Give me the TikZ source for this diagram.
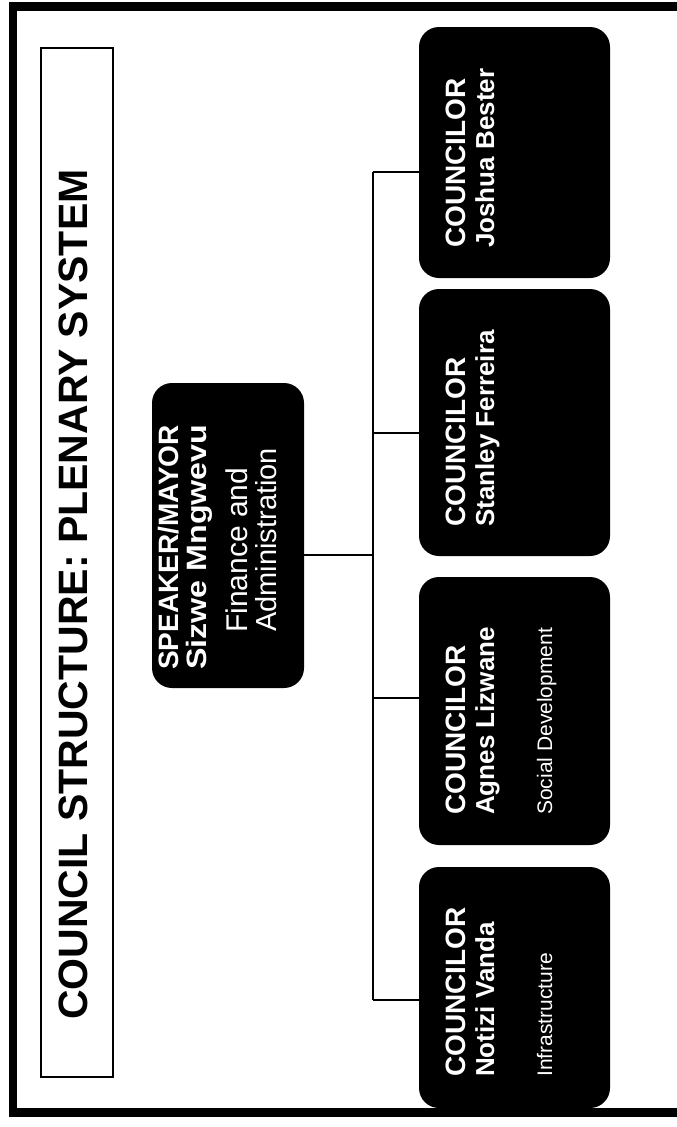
\documentclass[tikz,border=0pt]{standalone}
\usepackage{fontspec}
\setmainfont{Liberation Sans}
\usepackage{graphicx}
\begin{document}
\begin{tikzpicture}[x=1pt,y=-1pt,
  frameline/.style={line width=8.5pt, line join=miter},
  wire/.style={line width=2pt},
  card/.style={fill=black, rounded corners=20pt, inner sep=0pt, minimum width=191pt},
  rot/.style={rotate=90, anchor=base west, inner sep=0pt, text=white},
  hd/.style={rot, font=\fontsize{28}{28}\selectfont\bfseries},
  nm/.style={rot, font=\fontsize{26}{26}\selectfont\bfseries},
  sub/.style={rot, font=\fontsize{21}{21}\selectfont},
  big/.style={rot, font=\fontsize{30}{30}\selectfont},
]
\useasboundingbox (0,0) rectangle (677,1127);

% outer page frame (open on the right)
\draw[frameline] (677,6.5) -- (13,6.5) -- (13,1112.5) -- (677,1112.5);

% title banner
\node[draw, line width=2.5pt, inner sep=0pt, minimum width=72pt, minimum height=1029pt] (titlebox) at (77,562.5) {};
\node[rot, text=black, font=\fontsize{41}{41}\selectfont\bfseries] (title) at (87,1020) {COUNCIL STRUCTURE: PLENARY SYSTEM};

% boxes
\node[card, minimum width=152pt, minimum height=305pt] (speaker) at (228,535.5) {};
\node[card, minimum height=251pt] (joshua)  at (514.5,152.5) {};
\node[card, minimum height=267pt] (stanley) at (514.5,422.5) {};
\node[card, minimum height=268pt] (agnes)   at (514.5,711) {};
\node[card, minimum height=241pt] (notizi)  at (514.5,987.5) {};

% speaker text
\node[hd] (spk1) at (178,670) {SPEAKER/MAYOR};
\node[rot, font=\fontsize{28}{28}\selectfont\bfseries] (spk2) at (206,670) {\scalebox{1.15}[1]{Sizwe Mngwevu}};
\node[big] (spk3) at (247,633) {Finance and};
\node[big, font=\fontsize{29}{29}\selectfont] (spk4) at (276,632) {Administration};

% councilor text
\node[hd] (j1) at (465,248) {COUNCILOR};
\node[nm] (j2) at (494,248) {Joshua Bester};
\node[hd] (s1) at (465,527) {COUNCILOR};
\node[nm] (s2) at (494,527) {Stanley Ferreira};
\node[hd] (a1) at (465,815) {COUNCILOR};
\node[nm] (a2) at (494,815) {Agnes Lizwane};
\node[sub] (a3) at (552,815) {Social Development};
\node[hd] (n1) at (465,1077) {COUNCILOR};
\node[nm] (n2) at (494,1077) {Notizi Vanda};
\node[sub] (n3) at (552,1077) {Infrastructure};

% connectors
\coordinate (bj) at (373,172);
\coordinate (bs) at (373,433);
\coordinate (bm) at (373,555);
\coordinate (ba) at (373,698);
\coordinate (bn) at (373,1000);
\draw[wire] (bj) -- (bn);
\draw[wire] (speaker.east |- bm) -- (bm);
\draw[wire] (bj) -- (joshua.west |- bj);
\draw[wire] (bs) -- (stanley.west |- bs);
\draw[wire] (ba) -- (agnes.west |- ba);
\draw[wire] (bn) -- (notizi.west |- bn);
\end{tikzpicture}
\end{document}
